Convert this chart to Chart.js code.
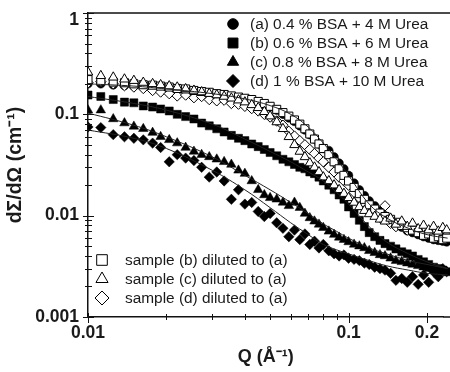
<!DOCTYPE html>
<html>
<head>
<meta charset="utf-8">
<script src="https://cdn.jsdelivr.net/npm/chart.js@4.4.0/dist/chart.umd.min.js"></script>
<style>
  html, body { margin: 0; padding: 0; background: #fff; }
  #wrap { width: 450px; height: 372px; }
</style>
</head>
<body>
<div id="wrap"><canvas id="sans" width="450" height="372"></canvas></div>
<script>
// scattering vector Q (1/A), shared by all measured curves
const q = [0.0100, 0.0112, 0.0125, 0.0138, 0.0150, 0.0163, 0.0177, 0.0190, 0.0205, 0.0220,
           0.0237, 0.0255, 0.0273, 0.0292, 0.0312, 0.0333, 0.0355, 0.0378, 0.0400, 0.0425,
           0.0450, 0.0475, 0.0500, 0.0530, 0.0560, 0.0590, 0.0620, 0.0650, 0.0680, 0.0710,
           0.0740, 0.0770, 0.0800, 0.0840, 0.0880, 0.0920, 0.0960, 0.1000, 0.1050, 0.1100,
           0.1150, 0.1200, 0.1260, 0.1320, 0.1380, 0.1450, 0.1520, 0.1600, 0.1680, 0.1760,
           0.1850, 0.1940, 0.2030, 0.2120, 0.2210, 0.2300, 0.2380];

// filled symbols
const bsa04 = [.200, .200, .195, .192, .190, .186, .184, .180, .178, .175,
               .170, .168, .163, .160, .157, .152, .148, .145, .140, .135,
               .130, .124, .118, .110, .100, .092, .085, .077, .070, .063,
               .057, .051, .046, .044, .038, .033, .029, .025, .021, .018,
               .0158, .0140, .0125, .0112, .0100, .0090, .0083, .0077, .0071, .0068,
               .0065, .0062, .0060, .0058, .0057, .0056, .0055];
const bsa06 = [.155, .150, .140, .132, .130, .121, .118, .113, .108, .100,
               .095, .090, .082, .077, .072, .067, .062, .058, .055, .051,
               .048, .045, .042, .039, .036, .034, .032, .030, .029, .027,
               .026, .024, .022, .020, .018, .016, .0145, .0122, .0105, .0090,
               .0078, .0068, .0062, .0057, .0053, .0050, .0047, .0044, .0042, .0040,
               .0037, .0035, .0033, .0031, .0030, .0029, .0028];
const bsa08 = [.110, .110, .090, .082, .076, .072, .066, .060, .056, .052,
               .047, .043, .040, .038, .036, .034, .032, .028, .026, .022,
               .018, .016, .015, .0145, .0135, .0125, .0135, .0120, .0105, .0095,
               .0088, .0082, .0076, .0070, .0065, .0061, .0058, .0055, .0052, .0050,
               .0048, .0045, .0043, .0041, .0040, .0038, .0036, .0035, .0034, .0033,
               .0032, .0031, .0030, .0030, .0029, .0029, .0028];
const bsa10 = [.075, .074, .063, .060, .058, .056, .052, .047, .034, .040,
               .037, .035, .030, .024, .027, .022, .0145, .018, .013, .0135,
               .011, .0098, .0105, .0085, .0075, .0062, .0072, .0058, .0066, .0052,
               .0056, .0048, .0052, .0045, .0042, .0040, .0041, .0038, .0037, .0036,
               .0034, .0033, .0031, .0030, .0029, .0027, .0023, .0024, .0022, .0025,
               .0021, .0026, .0022, .0028, .0025, .0030, .0028];

// open symbols: samples diluted to (a)
const dilB = [.220, .212, .208, .205, .200, .196, .194, .190, .186, .180,
              .178, .172, .168, .165, .160, .157, .152, .148, .144, .140,
              .134, .128, .120, .112, .104, .096, .088, .080, .072, .064,
              .057, .051, .046, .040, .034, .029, .025, .022, .019, .0165,
              .0145, .0128, .0116, .0106, .0098, .0092, .0086, .0080, .0076, .0072,
              .0068, .0064, .0066, .0060, .0062, .0058, .0060];
const dilC = [.260, .240, .232, .222, .215, .206, .200, .195, .190, .185,
              .178, .172, .166, .160, .155, .150, .144, .138, .132, .124,
              .116, .106, .096, .084, .072, .060, .050, .043, .038, .033,
              .030, .027, .024, .022, .020, .018, .0165, .0150, .0135, .0122,
              .0112, .0104, .0098, .0092, .0088, .0094, .0082, .0088, .0078, .0084,
              .0074, .0080, .0072, .0078, .0070, .0076, .0072];
const dilD = [.205, .210, .200, .192, .186, .180, .172, .166, .160, .152,
              .155, .146, .150, .140, .136, .138, .128, .126, .120, .114,
              .108, .100, .094, .086, .078, .068, .061, .055, .050, .045,
              .041, .037, .034, .030, .027, .024, .022, .020, .017, .0150,
              .0132, .0118, .0105, .0096, .0125, .0084, .0078, .0080, .0072, .0076,
              .0068, .0072, .0066, .0070, .0065, .0068, .0064];

// fitted curves
const fitQ = [0.01, 0.015, 0.02, 0.03, 0.04, 0.05, 0.06, 0.07, 0.08, 0.09, 0.1, 0.12, 0.14, 0.17, 0.2, 0.24];
const fitA = [.200, .190, .178, .160, .142, .122, .100, .075, .052, .036, .025, .013, .0095, .0075, .0065, .0060];
const fitB = [.150, .128, .110, .080, .057, .043, .034, .027, .022, .017, .013, .0078, .0055, .0042, .0035, .0030];
const fitC = [.103, .078, .060, .038, .025, .018, .0135, .0105, .0083, .0070, .0060, .0048, .0042, .0036, .0033, .0030];
const fitD = [.070, .058, .046, .028, .018, .012, .0085, .0065, .0052, .0046, .0042, .0036, .0032, .0029, .0027, .0026];

const filledLabels = ['(a) 0.4 % BSA + 4 M Urea', '(b) 0.6 % BSA + 6 M Urea',
                      '(c) 0.8 % BSA + 8 M Urea', '(d) 1 % BSA + 10 M Urea'];
const openLabels = ['sample (b) diluted to (a)', 'sample (c) diluted to (a)', 'sample (d) diluted to (a)'];

const xTickLabels = [0.01, 0.1, 0.2];
const yTickLabels = [0.001, 0.01, 0.1];   // "1" is drawn separately, sitting below the top edge

function pts(xs, ys) {
  return xs.map((v, i) => ({x: v, y: ys[i]}));
}

function markers(label, ys, style, radius, open, order) {
  return {
    label: label,
    data: pts(q, ys),
    pointStyle: style,
    pointRadius: radius,
    pointBackgroundColor: open ? '#fff' : '#000',
    pointBorderColor: '#000',
    pointBorderWidth: open ? 1 : 0.5,
    showLine: false,
    clip: {left: 0, top: 0, right: 10, bottom: 0},
    order: order
  };
}

function fitLine(ys) {
  return {
    data: pts(fitQ, ys),
    showLine: true,
    borderColor: '#222',
    borderWidth: 1,
    pointRadius: 0,
    tension: 0.4,
    clip: {left: 0, top: 0, right: 10, bottom: 0},
    order: 0
  };
}

const styles = ['circle', 'rect', 'triangle', 'rectRot'];
const legendRadius = [5.3, 7, 6.5, 6.5];
const FONT = '"Liberation Sans", Arial, sans-serif';

const axisDecor = {
  id: 'axisDecor',
  afterDraw(chart) {
    const {ctx, chartArea: a, scales: {x, y}} = chart;
    const H = Chart.helpers;
    ctx.save();
    ctx.strokeStyle = '#111';
    ctx.lineWidth = 1.5;
    ctx.beginPath();
    ctx.moveTo(a.left, a.top);
    ctx.lineTo(chart.width, a.top);
    ctx.moveTo(a.right, a.bottom);
    ctx.lineTo(chart.width, a.bottom);
    ctx.stroke();

    ctx.lineWidth = 1;
    for (let e = -3; e <= 0; e++) {
      for (let m = 1; m <= 9; m++) {
        const v = m * Math.pow(10, e);
        if (v > y.max * 1.0001) continue;
        const py = Math.round(y.getPixelForValue(v)) + 0.5;
        const major = m === 1;
        ctx.beginPath();
        ctx.moveTo(a.left - (major ? 5 : 3), py);
        ctx.lineTo(a.left + (major ? 6 : 4), py);
        ctx.stroke();
      }
    }
    for (let e = -2; e <= -1; e++) {
      for (let m = 1; m <= 9; m++) {
        const v = m * Math.pow(10, e);
        if (v > x.max) continue;
        const px = Math.round(x.getPixelForValue(v)) + 0.5;
        const major = m === 1 || (e === -1 && m === 2);
        ctx.beginPath();
        ctx.moveTo(px, a.bottom - (major ? 4 : 3));
        ctx.lineTo(px, a.bottom + (major ? 6 : 3));
        ctx.stroke();
      }
    }

    // top tick label
    ctx.fillStyle = '#1a1a1a';
    ctx.font = 'bold 17.5px ' + FONT;
    ctx.textAlign = 'right';
    ctx.textBaseline = 'middle';
    ctx.fillText('1', a.left - 9, y.getPixelForValue(1) + 7);

    // legends
    ctx.font = '15.4px ' + FONT;
    ctx.textAlign = 'left';
    filledLabels.forEach((t, i) => {
      const yy = 24 + i * 19;
      ctx.fillStyle = '#000';
      ctx.strokeStyle = '#000';
      H.drawPoint(ctx, {pointStyle: styles[i], radius: legendRadius[i], rotation: 0, borderWidth: 0.5}, 233, yy);
      ctx.fillStyle = '#1a1a1a';
      ctx.fillText(t, 250, yy + 1);
    });
    openLabels.forEach((t, i) => {
      const yy = 260 + i * 19;
      ctx.fillStyle = '#fff';
      ctx.strokeStyle = '#000';
      ctx.lineWidth = 1;
      H.drawPoint(ctx, {pointStyle: styles[i + 1], radius: legendRadius[i + 1] + 0.5, rotation: 0, borderWidth: 1}, 102, yy);
      ctx.fillStyle = '#1a1a1a';
      ctx.fillText(t, 125, yy + 1);
    });
    ctx.restore();
  }
};

const near = (v, list) => list.some(t => Math.abs(v - t) / t < 1e-6);
const tickFont = {family: FONT, size: 17.5, weight: 'bold'};

function noPad(s) {
  s.paddingLeft = 0; s.paddingRight = 0; s.paddingTop = 0; s.paddingBottom = 0;
}

new Chart(document.getElementById('sans'), {
  type: 'scatter',
  data: {
    datasets: [
      fitLine(fitA), fitLine(fitB), fitLine(fitC), fitLine(fitD),
      markers('dilB', dilB, 'rect', 5.7, true, 2),
      markers('dilC', dilC, 'triangle', 5.5, true, 1),
      markers('dilD', dilD, 'rectRot', 5.2, true, 3),
      markers('b', bsa06, 'rect', 5.7, false, 4),
      markers('c', bsa08, 'triangle', 5.5, false, 4),
      markers('d', bsa10, 'rectRot', 5.2, false, 4),
      markers('a', bsa04, 'circle', 4.3, false, 6)
    ]
  },
  options: {
    responsive: false,
    animation: false,
    events: [],
    layout: {padding: {top: 13, right: 0, bottom: 0, left: 0}},
    plugins: {legend: {display: false}, tooltip: {enabled: false}},
    scales: {
      x: {
        type: 'logarithmic',
        min: 0.01,
        max: 0.231,
        grid: {display: false, drawTicks: false},
        border: {display: true, color: '#111', width: 1.5},
        ticks: {
          autoSkip: false,
          maxRotation: 0,
          padding: 6,
          color: '#1a1a1a',
          font: tickFont,
          callback: v => near(v, xTickLabels) ? String(v) : ''
        },
        title: {display: true, text: 'Q (Å⁻¹)', color: '#1a1a1a',
                font: {family: FONT, size: 18, weight: 'bold'}, padding: {top: 0, bottom: 4}},
        afterFit(s) { s.height = 55; noPad(s); }
      },
      y: {
        type: 'logarithmic',
        min: 0.001,
        max: 1,
        grid: {display: false, drawTicks: false},
        border: {display: true, color: '#111', width: 1.5},
        ticks: {
          autoSkip: false,
          padding: 9,
          color: '#1a1a1a',
          font: tickFont,
          callback: v => near(v, yTickLabels) ? String(v) : ''
        },
        title: {display: true, text: 'dΣ/dΩ (cm⁻¹)', color: '#1a1a1a',
                font: {family: FONT, size: 19.5, weight: 'bold'}, padding: {top: 4, bottom: 4}},
        afterFit(s) { s.width = 88; noPad(s); }
      }
    }
  },
  plugins: [axisDecor]
});
</script>
</body>
</html>
